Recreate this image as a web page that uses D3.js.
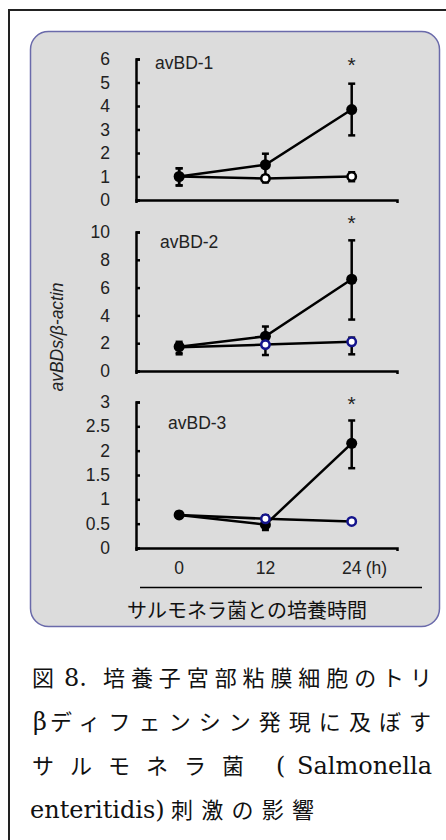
<!DOCTYPE html>
<html lang="ja">
  <head>
    <meta charset="utf-8" />
    <title>avBD expression</title>
    <script src="https://d3js.org/d3.v7.js"></script>
    <style>
      body { margin: 0; background: #fff; }
    </style>
  </head>
  <body>
    <div id="graph"></div>
    <script>

    // data
    var hours = [0, 12, 24];

    var bd1Salm = [1.0, 1.5, 3.85];
    var bd1SalmLo = [0.62, 1.05, 2.75];
    var bd1SalmHi = [1.35, 1.97, 4.95];
    var bd1Ctrl = [1.0, 0.92, 1.0];
    var bd1CtrlLo = [0.62, 0.75, 0.8];
    var bd1CtrlHi = [1.35, 1.05, 1.18];

    var bd2Salm = [1.75, 2.5, 6.6];
    var bd2SalmLo = [1.2, 1.9, 3.7];
    var bd2SalmHi = [2.1, 3.2, 9.4];
    var bd2Ctrl = [1.7, 1.9, 2.1];
    var bd2CtrlLo = [1.3, 1.15, 1.2];
    var bd2CtrlHi = [2.0, 2.5, 2.4];

    var bd3Salm = [0.68, 0.48, 2.15];
    var bd3SalmLo = [0.62, 0.37, 1.64];
    var bd3SalmHi = [0.74, 0.56, 2.62];
    var bd3Ctrl = [0.68, 0.6, 0.545];
    var bd3CtrlLo = [0.64, 0.53, 0.51];
    var bd3CtrlHi = [0.72, 0.67, 0.58];

    var yMax = [6, 10, 3];
    var yStep = [1, 2, 0.5];
    var geneNames = ["avBD-1", "avBD-2", "avBD-3"];

    var w = 446, h = 840;
    var sans = "'Liberation Sans', Arial, sans-serif";
    var serif = "'DejaVu Serif', serif";
    var jp = "'Noto Sans CJK JP', sans-serif";

    var svg = d3.select("#graph")
      .append("svg")
        .attr("width", w)
        .attr("height", h)
        .attr("font-family", sans);

    // outer frame (left + top edge)
    svg.append("path")
      .attr("d", "M9,840V10H446")
      .attr("fill", "none")
      .attr("stroke", "#222")
      .attr("stroke-width", 2);

    // grey rounded panel
    svg.append("rect")
      .attr("x", 30.5).attr("y", 31.5)
      .attr("width", 409).attr("height", 595)
      .attr("rx", 18).attr("ry", 18)
      .attr("fill", "#dcdcdc")
      .attr("stroke", "#6a6aaa")
      .attr("stroke-width", 1.5);

    // shared x scale (axis line runs past both ends)
    var x = d3.scaleLinear().domain([-6, 30.3]).range([136, 397]);

    var panels = [
      {top: 59, bottom: 200, salm: bd1Salm, sLo: bd1SalmLo, sHi: bd1SalmHi,
       ctrl: bd1Ctrl, cLo: bd1CtrlLo, cHi: bd1CtrlHi, openColor: "#000", nameX: 155, nameY: 69, starY: 72},
      {top: 232, bottom: 371, salm: bd2Salm, sLo: bd2SalmLo, sHi: bd2SalmHi,
       ctrl: bd2Ctrl, cLo: bd2CtrlLo, cHi: bd2CtrlHi, openColor: "#14148c", nameX: 160, nameY: 248, starY: 230},
      {top: 402, bottom: 548, salm: bd3Salm, sLo: bd3SalmLo, sHi: bd3SalmHi,
       ctrl: bd3Ctrl, cLo: bd3CtrlLo, cHi: bd3CtrlHi, openColor: "#14148c", nameX: 168, nameY: 429, starY: 411}
    ];

    panels.forEach(function(p, i) {
      var y = d3.scaleLinear().domain([0, yMax[i]]).range([p.bottom, p.top]);
      var g = svg.append("g");

      var ticks = d3.range(0, yMax[i] + yStep[i] / 2, yStep[i]);
      var yAxis = g.append("g")
        .attr("transform", "translate(" + x.range()[0] + ",0)")
        .call(d3.axisLeft(y).tickValues(ticks).tickSizeInner(-4).tickSizeOuter(-4)
          .tickPadding(26).tickFormat(d3.format("")));
      yAxis.attr("font-family", sans).attr("font-size", 17.5);
      yAxis.selectAll("path, line").attr("stroke", "#000").attr("stroke-width", 2.5);
      yAxis.selectAll("text").attr("fill", "#222");

      var xAxis = g.append("g")
        .attr("transform", "translate(0," + p.bottom + ")")
        .call(d3.axisBottom(x).tickValues([]).tickSizeOuter(3));
      xAxis.selectAll("path").attr("stroke", "#000").attr("stroke-width", 2.5);

      var line = d3.line().x(function(d) { return x(d[0]); }).y(function(d) { return y(d[1]); });

      var salmPts = hours.map(function(t, j) { return [t, p.salm[j], p.sLo[j], p.sHi[j]]; });
      var ctrlPts = hours.map(function(t, j) { return [t, p.ctrl[j], p.cLo[j], p.cHi[j]]; });

      [ctrlPts, salmPts].forEach(function(pts) {
        g.append("path").datum(pts)
          .attr("d", line)
          .attr("fill", "none")
          .attr("stroke", "#000")
          .attr("stroke-width", 2.5);
      });

      // error bars
      [ctrlPts, salmPts].forEach(function(pts) {
        var eb = g.selectAll(null).data(pts).join("g");
        eb.append("line")
          .attr("x1", d => x(d[0])).attr("x2", d => x(d[0]))
          .attr("y1", d => y(d[2])).attr("y2", d => y(d[3]));
        eb.append("line")
          .attr("x1", d => x(d[0]) - 3.5).attr("x2", d => x(d[0]) + 3.5)
          .attr("y1", d => y(d[2])).attr("y2", d => y(d[2]));
        eb.append("line")
          .attr("x1", d => x(d[0]) - 3.5).attr("x2", d => x(d[0]) + 3.5)
          .attr("y1", d => y(d[3])).attr("y2", d => y(d[3]));
        eb.selectAll("line").attr("stroke", "#000").attr("stroke-width", 2.5);
      });

      g.selectAll(null).data(salmPts).join("circle")
        .attr("cx", d => x(d[0])).attr("cy", d => y(d[1]))
        .attr("r", 5.5).attr("fill", "#000");

      // open markers (control), skip t=0 where both series share the point
      g.selectAll(null).data(ctrlPts.slice(1)).join("circle")
        .attr("cx", d => x(d[0])).attr("cy", d => y(d[1]))
        .attr("r", 4.2).attr("fill", "#fff")
        .attr("stroke", p.openColor).attr("stroke-width", 2.5);

      g.append("text")
        .attr("x", p.nameX).attr("y", p.nameY)
        .attr("font-size", 17.5).attr("fill", "#222")
        .text(geneNames[i]);

      g.append("text")
        .attr("x", x(24)).attr("y", p.starY)
        .attr("text-anchor", "middle")
        .attr("font-size", 21).attr("fill", "#222")
        .text("*");

      if (i === 2) {
        g.selectAll(null).data(hours).join("text")
          .attr("x", d => x(d)).attr("y", 574)
          .attr("text-anchor", "middle")
          .attr("font-size", 17.5).attr("fill", "#222")
          .text(d => d);
        g.append("text")
          .attr("x", x(24) + 14).attr("y", 574)
          .attr("font-size", 17.5).attr("fill", "#222")
          .text("(h)");
      }
    });

    // y label
    svg.append("text")
      .attr("transform", "translate(63,337) rotate(-90)")
      .attr("text-anchor", "middle")
      .attr("font-size", 17.5)
      .attr("font-style", "italic")
      .attr("fill", "#222")
      .text("avBDs/β-actin");

    // x title with rule above
    svg.append("line")
      .attr("x1", 140).attr("x2", 422)
      .attr("y1", 587.5).attr("y2", 587.5)
      .attr("stroke", "#000").attr("stroke-width", 1.5);
    svg.append("text")
      .attr("x", 247).attr("y", 618)
      .attr("text-anchor", "middle")
      .attr("font-size", 20)
      .attr("font-family", jp)
      .attr("fill", "#111")
      .text("サルモネラ菌との培養時間");

    // caption: Latin parts serif, Japanese parts spread out like the original
    var cap = svg.append("g").attr("fill", "#111");

    function latin(t, xx, s) {
      return t.append("tspan").attr("x", xx)
        .attr("font-family", serif).attr("font-size", 24)
        .text(s);
    }
    function kana(t, xx, len, s) {
      return t.append("tspan").attr("x", xx)
        .attr("font-family", jp).attr("font-size", 22)
        .attr("textLength", len).attr("lengthAdjust", "spacing")
        .text(s);
    }

    var l1 = cap.append("text").attr("y", 686);
    kana(l1, 32, 20, "図");
    latin(l1, 64, "8.");
    kana(l1, 103, 329, "培養子宮部粘膜細胞のトリ");

    var l2 = cap.append("text").attr("y", 730);
    latin(l2, 33, "β");
    kana(l2, 50, 381, "ディフェンシン発現に及ぼす");

    var l3 = cap.append("text").attr("y", 774);
    kana(l3, 32, 212, "サルモネラ菌");
    latin(l3, 276, "(");
    latin(l3, 297, "Salmonella");

    var l4 = cap.append("text").attr("y", 818);
    latin(l4, 30, "enteritidis)");
    kana(l4, 171, 143, "刺激の影響");

    </script>
  </body>
</html>
